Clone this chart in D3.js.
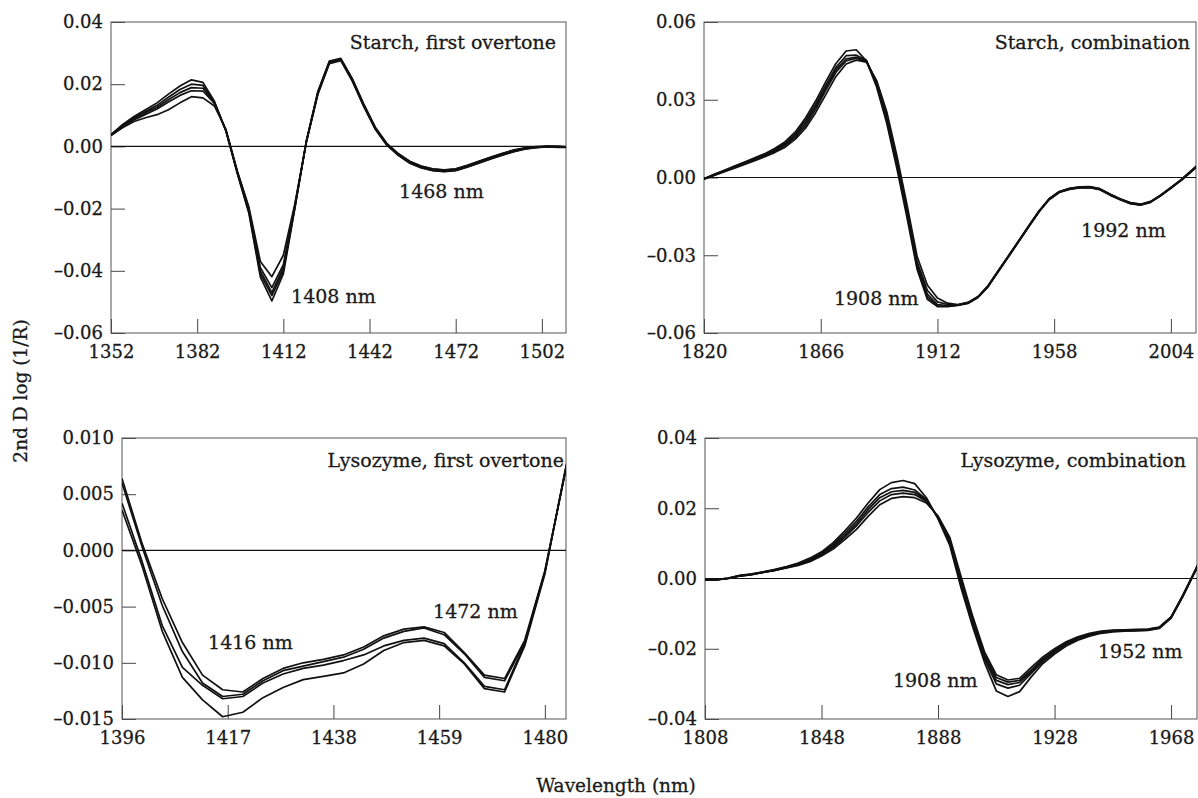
<!DOCTYPE html>
<html>
<head>
<meta charset="utf-8">
<script src="https://cdn.jsdelivr.net/npm/d3@7"></script>
<style>
  body { margin: 0; background: #fff; }
  svg { display: block; }
  text { font-family: "DejaVu Serif", serif; fill: #1a1a1a; stroke: #1a1a1a; stroke-width: 0.3px; }
</style>
</head>
<body>
<svg id="chart" width="1198" height="798"></svg>
<script>
// ---------- DATA (second-derivative values, in units of 10^-3) ----------

// Starch, first overtone
const starchOvtWl = [1352,1356,1360,1364,1368,1372,1376,1380,1384,1388,1392,1396,1400,1404,1408,1412,1416,1420,1424,1428,1432,1436,1440,1444,1448,1452,1456,1460,1464,1468,1472,1476,1480,1484,1488,1492,1496,1500,1504,1508,1512];
const starchOvtA = [3.8,7.0,9.6,11.8,14.0,16.8,19.4,21.4,20.6,14.5,5.0,-8.8,-21.5,-42.0,-49.7,-41.0,-20.0,1.7,17.6,27.4,28.3,21.8,13.6,6.2,1.0,-2.3,-4.8,-6.3,-7.2,-7.5,-7.2,-6.1,-4.8,-3.5,-2.3,-1.2,-0.5,-0.1,0.1,0.0,-0.2];
const starchOvtB = [3.7,6.8,9.2,11.2,13.2,15.8,18.3,20.0,19.6,14.2,5.0,-8.6,-21.0,-41.0,-48.0,-40.0,-19.7,1.6,17.4,27.2,28.1,21.6,13.4,6.0,0.8,-2.4,-4.9,-6.4,-7.3,-7.6,-7.3,-6.2,-4.9,-3.6,-2.4,-1.3,-0.6,-0.2,0.0,-0.1,-0.2];
const starchOvtC = [3.7,6.6,8.9,10.8,12.6,15.0,17.3,18.9,18.7,14.0,5.2,-8.4,-20.5,-40.0,-47.0,-39.0,-19.4,1.5,17.1,27.0,27.9,21.4,13.2,5.8,0.7,-2.6,-5.1,-6.6,-7.5,-7.8,-7.5,-6.4,-5.1,-3.8,-2.6,-1.5,-0.7,-0.3,0.0,-0.1,-0.3];
const starchOvtD = [3.6,6.4,8.5,10.3,12.0,14.3,16.4,17.9,17.8,13.8,5.2,-8.2,-20.0,-39.0,-45.4,-38.0,-19.0,1.4,16.9,26.8,27.8,21.2,13.0,5.7,0.6,-2.8,-5.3,-6.8,-7.7,-8.0,-7.7,-6.6,-5.3,-4.0,-2.8,-1.7,-0.8,-0.3,-0.1,-0.2,-0.3];
const starchOvtE = [3.5,6.0,8.0,9.2,10.2,11.8,14.0,16.0,15.6,13.0,5.5,-8.0,-19.5,-37.0,-41.9,-35.0,-18.5,1.3,16.7,26.6,27.6,21.0,12.8,5.5,0.4,-2.9,-5.4,-6.9,-7.8,-8.1,-7.8,-6.7,-5.4,-4.1,-2.9,-1.8,-0.9,-0.4,-0.2,-0.3,-0.4];

// Starch, combination
const starchCombWl = [1820,1824,1828,1832,1836,1840,1844,1848,1852,1856,1860,1864,1868,1872,1876,1880,1884,1888,1892,1896,1900,1904,1908,1912,1916,1920,1924,1928,1932,1936,1940,1944,1948,1952,1956,1960,1964,1968,1972,1976,1980,1984,1988,1992,1996,2000,2004,2008,2012,2016];
const starchCombA = [-0.5,1.2,2.8,4.4,6.0,7.6,9.2,11.3,13.8,17.6,23.0,29.5,37.0,44.0,48.8,49.3,45.0,35.0,21.0,3.5,-15.5,-35.5,-47.0,-49.8,-49.8,-49.4,-48.6,-46.3,-42.1,-36.3,-30.6,-24.8,-19.0,-13.3,-8.6,-5.8,-4.6,-4.0,-3.9,-4.7,-6.8,-8.6,-10.1,-10.7,-9.6,-7.1,-4.2,-1.2,2.2,5.7];
const starchCombB = [-0.5,1.1,2.6,4.2,5.7,7.3,8.9,10.9,13.2,16.8,22.0,28.3,35.6,42.5,47.0,47.2,45.2,36.0,22.5,5.0,-14.0,-34.5,-46.0,-49.5,-49.6,-49.3,-48.5,-46.2,-42.0,-36.2,-30.5,-24.7,-18.9,-13.2,-8.5,-5.7,-4.5,-3.9,-3.8,-4.6,-6.7,-8.5,-10.0,-10.6,-9.5,-7.0,-4.1,-1.1,2.3,5.8];
const starchCombC = [-0.6,1.0,2.5,4.0,5.5,7.0,8.6,10.5,12.7,16.2,21.0,27.3,34.6,41.5,45.8,46.4,45.0,36.5,23.5,6.0,-13.0,-33.5,-45.0,-49.0,-49.4,-49.2,-48.4,-46.1,-41.9,-36.1,-30.4,-24.6,-18.8,-13.1,-8.4,-5.6,-4.4,-3.8,-3.7,-4.5,-6.6,-8.4,-9.9,-10.5,-9.4,-6.9,-4.0,-1.0,2.4,5.9];
const starchCombD = [-0.6,0.9,2.3,3.8,5.3,6.8,8.3,10.1,12.3,15.6,20.0,26.3,33.6,40.6,45.0,46.0,44.8,37.0,24.5,7.0,-12.0,-32.5,-43.5,-48.0,-49.0,-49.1,-48.3,-46.0,-41.8,-36.0,-30.3,-24.5,-18.7,-13.0,-8.3,-5.5,-4.3,-3.7,-3.6,-4.4,-6.5,-8.3,-9.8,-10.4,-9.3,-6.8,-3.9,-0.9,2.5,6.0];
const starchCombE = [-0.7,0.8,2.2,3.6,5.0,6.5,8.0,9.7,11.7,14.8,19.0,25.0,32.0,39.0,43.8,45.3,44.5,37.5,25.5,8.5,-10.5,-30.5,-41.5,-46.5,-48.5,-49.0,-48.2,-45.9,-41.7,-35.9,-30.2,-24.4,-18.6,-12.9,-8.2,-5.4,-4.2,-3.6,-3.5,-4.3,-6.4,-8.2,-9.7,-10.3,-9.2,-6.7,-3.8,-0.8,2.6,6.1];

// Lysozyme, first overtone
const lysoOvtWl = [1396,1400,1404,1408,1412,1416,1420,1424,1428,1432,1436,1440,1444,1448,1452,1456,1460,1464,1468,1472,1476,1480,1484,1488];
const lysoOvtA = [6.4,0.6,-4.3,-8.2,-11.1,-12.4,-12.6,-11.4,-10.5,-10.0,-9.7,-9.3,-8.6,-7.6,-7.0,-6.8,-7.3,-9.1,-11.1,-11.4,-8.0,-1.8,6.8,15.0];
const lysoOvtB = [6.0,0.3,-4.9,-9.0,-11.8,-13.0,-12.8,-11.6,-10.7,-10.3,-9.9,-9.5,-8.8,-7.8,-7.2,-6.9,-7.5,-9.2,-11.3,-11.6,-8.2,-1.9,6.9,15.1];
const lysoOvtC = [4.2,-1.0,-6.7,-10.4,-12.0,-13.2,-13.0,-11.8,-11.0,-10.5,-10.2,-9.8,-9.3,-8.5,-8.0,-7.8,-8.3,-10.0,-12.1,-12.4,-8.3,-2.0,7.0,15.2];
const lysoOvtD = [3.6,-1.4,-7.2,-11.3,-13.3,-14.8,-14.4,-13.1,-12.2,-11.5,-11.2,-10.9,-10.1,-8.9,-8.2,-8.0,-8.5,-10.1,-12.3,-12.6,-8.5,-2.1,7.0,15.2];

// Lysozyme, combination
const lysoCombWl = [1808,1812,1816,1820,1824,1828,1832,1836,1840,1844,1848,1852,1856,1860,1864,1868,1872,1876,1880,1884,1888,1892,1896,1900,1904,1908,1912,1916,1920,1924,1928,1932,1936,1940,1944,1948,1952,1956,1960,1964,1968,1972,1976,1980];
const lysoCombA = [-0.3,-0.3,0.1,0.9,1.3,1.9,2.6,3.4,4.4,5.8,7.6,10.2,13.6,17.2,21.5,25.3,27.3,27.9,27.0,23.0,17.0,9.5,-3.0,-14.0,-24.0,-32.0,-33.6,-32.2,-28.0,-24.2,-21.5,-19.2,-17.6,-16.4,-15.6,-15.2,-15.0,-14.9,-14.8,-14.2,-11.3,-5.2,1.5,8.5];
const lysoCombB = [-0.3,-0.3,0.1,0.8,1.2,1.8,2.5,3.3,4.2,5.5,7.3,9.7,12.9,16.3,20.4,23.9,25.6,26.0,25.2,22.5,17.2,10.2,-2.0,-13.0,-23.0,-30.0,-31.2,-30.4,-27.0,-23.6,-21.0,-18.8,-17.3,-16.2,-15.4,-15.0,-14.9,-14.8,-14.7,-14.1,-11.2,-5.1,1.6,8.6];
const lysoCombC = [-0.3,-0.3,0.0,0.8,1.2,1.8,2.4,3.2,4.0,5.2,7.0,9.3,12.3,15.6,19.6,23.0,24.7,25.1,24.5,22.2,17.4,10.7,-1.3,-12.4,-22.3,-29.0,-30.2,-29.6,-26.5,-23.2,-20.7,-18.5,-17.1,-16.0,-15.3,-14.9,-14.8,-14.7,-14.6,-14.0,-11.1,-5.0,1.7,8.7];
const lysoCombD = [-0.4,-0.3,0.0,0.7,1.1,1.7,2.3,3.1,3.9,5.0,6.7,8.9,11.8,15.0,18.8,22.1,23.9,24.3,23.9,21.9,17.6,11.2,-0.6,-11.8,-21.8,-28.2,-29.5,-29.0,-26.0,-22.8,-20.4,-18.3,-16.9,-15.8,-15.2,-14.8,-14.7,-14.6,-14.5,-13.9,-11.0,-4.9,1.8,8.8];
const lysoCombE = [-0.4,-0.4,0.0,0.7,1.1,1.7,2.3,3.0,3.7,4.8,6.4,8.4,11.1,14.0,17.7,21.0,22.8,23.3,23.0,21.5,17.8,11.8,0.3,-11.0,-21.0,-27.4,-28.9,-28.4,-25.3,-22.3,-20.0,-18.0,-16.6,-15.6,-15.0,-14.7,-14.6,-14.5,-14.4,-13.8,-10.9,-4.8,1.9,8.9];

// Tick values
const starchOvtXTicks = [1352,1382,1412,1442,1472,1502];
const starchOvtYTicks = [-0.06,-0.04,-0.02,0,0.02,0.04];
const starchCombXTicks = [1820,1866,1912,1958,2004];
const starchCombYTicks = [-0.06,-0.03,0,0.03,0.06];
const lysoOvtXTicks = [1396,1417,1438,1459,1480];
const lysoOvtYTicks = [-0.015,-0.010,-0.005,0,0.005,0.010];
const lysoCombXTicks = [1808,1848,1888,1928,1968];
const lysoCombYTicks = [-0.04,-0.02,0,0.02,0.04];

// Panel titles and peak labels
const panelTitles = ["Starch, first overtone","Starch, combination","Lysozyme, first overtone","Lysozyme, combination"];
const starchOvtNotes = [{t:"1408 nm", wl:1414.7, v:-0.0504},{t:"1468 nm", wl:1452.3, v:-0.0166}];
const starchCombNotes = [{t:"1908 nm", wl:1871.2, v:-0.0492},{t:"1992 nm", wl:1968.6, v:-0.0230}];
const lysoOvtNotes = [{t:"1416 nm", wl:1413.1, v:-0.00877},{t:"1472 nm", wl:1457.8, v:-0.0060}];
const lysoCombNotes = [{t:"1908 nm", wl:1872.5, v:-0.0309},{t:"1952 nm", wl:1942.9, v:-0.0226}];

// ---------- DRAWING ----------
const svg = d3.select("#chart");
const dash = "\u2013";
const yFmt = (dec) => (v) => (v < 0 ? dash : "") + Math.abs(v).toFixed(dec);

const panels = [
  { wl: starchOvtWl, series: [starchOvtA,starchOvtB,starchOvtC,starchOvtD,starchOvtE],
    box: {l:111, r:566, t:22, b:333}, xDom: [1352, 1510.4], yDom: [-0.06, 0.04],
    xTicks: starchOvtXTicks, yTicks: starchOvtYTicks, dec: 2, title: panelTitles[0], titleDx: -10, titleDy: 27, notes: starchOvtNotes },
  { wl: starchCombWl, series: [starchCombA,starchCombB,starchCombC,starchCombD,starchCombE],
    box: {l:704, r:1196, t:22, b:333}, xDom: [1820, 2013.9], yDom: [-0.06, 0.06],
    xTicks: starchCombXTicks, yTicks: starchCombYTicks, dec: 2, title: panelTitles[1], titleDx: -6, titleDy: 27, notes: starchCombNotes },
  { wl: lysoOvtWl, series: [lysoOvtA,lysoOvtB,lysoOvtC,lysoOvtD],
    box: {l:122, r:566, t:438, b:719}, xDom: [1396, 1484.2], yDom: [-0.015, 0.010],
    xTicks: lysoOvtXTicks, yTicks: lysoOvtYTicks, dec: 3, title: panelTitles[2], titleDx: -2, titleDy: 29, notes: lysoOvtNotes },
  { wl: lysoCombWl, series: [lysoCombA,lysoCombB,lysoCombC,lysoCombD,lysoCombE],
    box: {l:705, r:1197, t:438, b:719}, xDom: [1808, 1976.9], yDom: [-0.04, 0.04],
    xTicks: lysoCombXTicks, yTicks: lysoCombYTicks, dec: 2, title: panelTitles[3], titleDx: -11, titleDy: 29, notes: lysoCombNotes }
];

panels.forEach((p, i) => {
  const x = d3.scaleLinear().domain(p.xDom).range([p.box.l, p.box.r]);
  const y = d3.scaleLinear().domain(p.yDom).range([p.box.b, p.box.t]);
  const g = svg.append("g");

  const clipId = "clip" + i;
  svg.append("defs").append("clipPath").attr("id", clipId)
    .append("rect").attr("x", p.box.l).attr("y", p.box.t)
    .attr("width", p.box.r - p.box.l).attr("height", p.box.b - p.box.t);

  // x axis (ticks pointing inward)
  const xAxis = d3.axisBottom(x).tickValues(p.xTicks).tickFormat(d3.format("d"))
    .tickSizeInner(-14).tickSizeOuter(0).tickPadding(12);
  const gx = g.append("g").attr("transform", `translate(0,${p.box.b})`).call(xAxis);
  gx.select(".domain").remove();
  gx.selectAll("line").attr("stroke", "#444");
  gx.selectAll("text").attr("font-size", 18).attr("font-family", "DejaVu Serif").attr("fill", "#1a1a1a");

  // y axis
  const yAxis = d3.axisLeft(y).tickValues(p.yTicks).tickFormat(yFmt(p.dec))
    .tickSizeInner(-14).tickSizeOuter(0).tickPadding(8);
  const gy = g.append("g").attr("transform", `translate(${p.box.l},0)`).call(yAxis);
  gy.select(".domain").remove();
  gy.selectAll("line").attr("stroke", "#444");
  gy.selectAll("text").attr("font-size", 18).attr("font-family", "DejaVu Serif").attr("fill", "#1a1a1a");

  // frame
  g.append("rect").attr("x", p.box.l).attr("y", p.box.t)
    .attr("width", p.box.r - p.box.l).attr("height", p.box.b - p.box.t)
    .attr("fill", "none").attr("stroke", "#555").attr("stroke-width", 1);

  // zero line
  g.append("line").attr("x1", p.box.l).attr("x2", p.box.r)
    .attr("y1", y(0)).attr("y2", y(0)).attr("stroke", "#111").attr("stroke-width", 1.1);

  // spectra
  const line = d3.line().x((d, k) => x(p.wl[k])).y(d => y(d / 1000));
  g.append("g").attr("clip-path", `url(#${clipId})`)
    .selectAll("path").data(p.series).join("path")
    .attr("d", s => line(s))
    .attr("fill", "none").attr("stroke", "#111").attr("stroke-width", 1.7)
    .attr("stroke-linejoin", "round");

  // title
  g.append("text").attr("x", p.box.r + p.titleDx).attr("y", p.box.t + p.titleDy)
    .attr("text-anchor", "end").attr("font-size", 19).text(p.title);

  // peak labels
  g.selectAll("text.note").data(p.notes).join("text").attr("class", "note")
    .attr("x", d => x(d.wl)).attr("y", d => y(d.v))
    .attr("font-size", 19).text(d => d.t);
});

// axis titles
svg.append("text").attr("transform", "translate(27,391) rotate(-90)")
  .attr("text-anchor", "middle").attr("font-size", 18.5).text("2nd D log (1/R)");
svg.append("text").attr("x", 616).attr("y", 792)
  .attr("text-anchor", "middle").attr("font-size", 18.5).text("Wavelength (nm)");
</script>
</body>
</html>
